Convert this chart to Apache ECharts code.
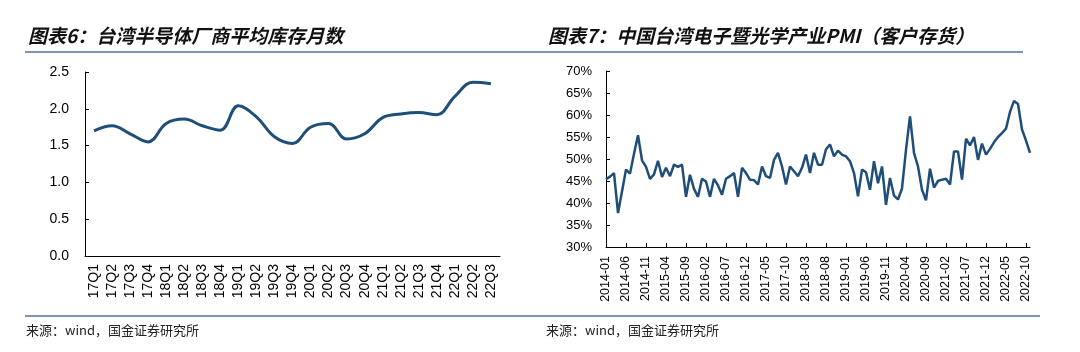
<!DOCTYPE html>
<html>
<head>
<meta charset="utf-8">
<script src="https://cdn.jsdelivr.net/npm/echarts@6/dist/echarts.min.js"></script>
<style>
  html, body { margin: 0; padding: 0; background: #fff; }
  #chart { width: 1080px; height: 352px; }
</style>
</head>
<body>
<div id="chart"></div>
<script>
// left: average inventory months of Taiwan semiconductor makers
const quarters = ['17Q1', '17Q2', '17Q3', '17Q4', '18Q1', '18Q2', '18Q3', '18Q4', '19Q1', '19Q2', '19Q3', '19Q4',
  '20Q1', '20Q2', '20Q3', '20Q4', '21Q1', '21Q2', '21Q3', '21Q4', '22Q1', '22Q2', '22Q3']
const inventoryMonths = [1.70, 1.77, 1.66, 1.55, 1.80, 1.86, 1.77, 1.71, 2.04, 1.89, 1.62, 1.53,
  1.75, 1.80, 1.59, 1.66, 1.88, 1.93, 1.95, 1.92, 2.17, 2.36, 2.34]

// right: Taiwan electronics & optical PMI (customer inventory), monthly 2014-01 .. 2022-11
const months = []
for (let y = 2014; y <= 2022; y++) {
  for (let m = 1; m <= 12; m++) {
    if (y === 2022 && m > 11) break
    months.push(y + '-' + String(m).padStart(2, '0'))
  }
}
const pmiValues = [
  45.4, 46.0, 46.8, 37.7, 42.6, 47.6, 46.7, 51.2, 55.4, 49.7, 48.2, 45.5,
  46.5, 49.6, 45.9, 48.0, 46.1, 48.7, 48.2, 48.7, 41.4, 46.4, 43.2, 41.4,
  45.5, 44.9, 41.4, 45.5, 44.0, 41.9, 45.5, 46.1, 46.8, 41.4, 48.0, 46.8,
  45.3, 45.2, 44.2, 48.3, 46.1, 45.7, 49.8, 51.4, 48.3, 44.2, 48.3, 47.2,
  46.1, 48.0, 51.0, 46.8, 51.4, 48.7, 48.7, 52.2, 53.3, 50.6, 51.9, 51.0,
  50.6, 49.5, 46.8, 41.5, 47.6, 47.0, 43.0, 49.5, 44.5, 48.3, 39.6, 45.7,
  41.7, 40.8, 43.3, 52.1, 59.7, 51.4, 48.3, 43.0, 40.6, 47.8, 43.5, 45.0,
  45.3, 45.5, 44.2, 51.7, 51.7, 45.3, 54.6, 53.1, 55.0, 49.8, 53.5, 51.0,
  52.3, 53.8, 55.0, 55.9, 56.9, 60.7, 63.2, 62.5, 56.7, 54.2, 51.4
]

const titleLeft = '图表6：台湾半导体厂商平均库存月数'
const titleRight = '图表7：中国台湾电子暨光学产业PMI（客户存货）'
const sourceText = '来源：wind，国金证券研究所'

const lineColor = '#1f4e79'
const ruleColor = '#4f7298'
const numFont = '"Liberation Sans", Arial, sans-serif'
const cjkFont = '"Noto Sans CJK SC", sans-serif'

const chart = echarts.init(document.getElementById('chart'))

const titleStyle = {
  fill: '#111',
  font: 'italic bold 19px ' + cjkFont,
  textVerticalAlign: 'middle'
}

const option = {
  animation: false,
  graphic: [
    { type: 'text', left: 28, top: 26, style: Object.assign({ text: titleLeft }, titleStyle) },
    { type: 'text', left: 548, top: 26, style: Object.assign({ text: titleRight }, titleStyle) },
    { type: 'line', shape: { x1: 25, y1: 52, x2: 1023, y2: 52 }, style: { stroke: ruleColor, lineWidth: 1.5 } },
    { type: 'line', shape: { x1: 25, y1: 316, x2: 1040, y2: 316 }, style: { stroke: ruleColor, lineWidth: 1.5 } },
    { type: 'text', left: 26, top: 324, style: { text: sourceText, fill: '#222', font: '13px ' + cjkFont } },
    { type: 'text', left: 546, top: 324, style: { text: sourceText, fill: '#222', font: '13px ' + cjkFont } }
  ],
  grid: [
    { left: 85, right: 580, top: 72, bottom: 96 },
    { left: 606, right: 50, top: 71, bottom: 105 }
  ],
  xAxis: [
    {
      type: 'category',
      gridIndex: 0,
      data: quarters,
      axisLine: { lineStyle: { color: '#000', width: 1 } },
      axisTick: { inside: true, length: 4, lineStyle: { color: '#000' } },
      axisLabel: { rotate: 90, interval: 0, margin: 8, color: '#000', fontSize: 14, fontFamily: numFont }
    },
    {
      type: 'category',
      gridIndex: 1,
      data: months,
      boundaryGap: false,
      axisLine: { lineStyle: { color: '#000', width: 1 } },
      axisTick: { inside: true, length: 4, interval: 4, lineStyle: { color: '#000' } },
      axisLabel: { rotate: 90, interval: 4, margin: 9, color: '#000', fontSize: 12.5, fontFamily: numFont }
    }
  ],
  yAxis: [
    {
      type: 'value',
      gridIndex: 0,
      min: 0,
      max: 2.5,
      interval: 0.5,
      splitLine: { show: false },
      axisLine: { show: true, lineStyle: { color: '#000', width: 1 } },
      axisTick: { show: true, inside: true, length: 4, lineStyle: { color: '#000' } },
      axisLabel: {
        margin: 16,
        color: '#000',
        fontSize: 14,
        fontFamily: numFont,
        formatter: (v) => v.toFixed(1)
      }
    },
    {
      type: 'value',
      gridIndex: 1,
      min: 30,
      max: 70,
      interval: 5,
      splitLine: { show: false },
      axisLine: { show: true, lineStyle: { color: '#000', width: 1 } },
      axisTick: { show: true, inside: true, length: 4, lineStyle: { color: '#000' } },
      axisLabel: {
        margin: 14,
        color: '#000',
        fontSize: 13,
        fontFamily: numFont,
        formatter: '{value}%'
      }
    }
  ],
  series: [
    {
      type: 'line',
      xAxisIndex: 0,
      yAxisIndex: 0,
      data: inventoryMonths,
      smooth: 0.4,
      showSymbol: false,
      lineStyle: { color: lineColor, width: 3 }
    },
    {
      type: 'line',
      xAxisIndex: 1,
      yAxisIndex: 1,
      data: pmiValues,
      showSymbol: false,
      lineStyle: { color: lineColor, width: 2.5 }
    }
  ]
}

chart.setOption(option)
</script>
</body>
</html>
